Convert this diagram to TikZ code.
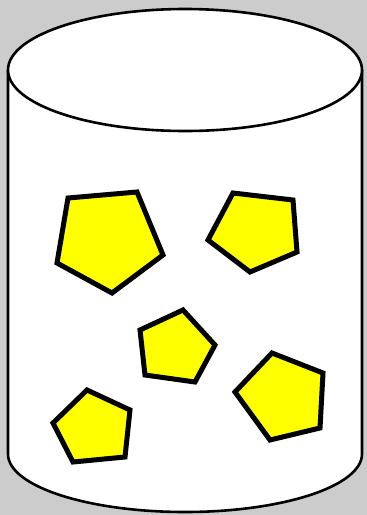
\documentclass[tikz,border=0pt]{standalone}
\usetikzlibrary{calc}
\definecolor{bggray}{HTML}{CCCCCC}
\definecolor{penty}{HTML}{FFFF00}
\tikzset{
  cyl/.style={draw=black, line width=2.6pt, fill=white},
  pent/.style={draw=black, line width=5pt, fill=penty, line join=miter},
}
\begin{document}
\begin{tikzpicture}[x=1pt,y=-1pt]
\fill[bggray] (0,0) rectangle (367,515);
\useasboundingbox (0,0) rectangle (367,515);
% cylinder body
\coordinate (tl) at (8,70);
\coordinate (tr) at (362,70);
\coordinate (bl) at (8,454);
\path[cyl] (tl) -- (bl) arc[start angle=180, end angle=0, x radius=177, y radius=58] -- (tr);
% top ellipse
\path[cyl] (185,70) ellipse[x radius=177, y radius=61];
% pentagons
\path[pent] (68,198) -- (137,192) -- (163,255) -- (112,293) -- (57,263) -- cycle;
\path[pent] (233,193) -- (293,200) -- (297,252) -- (250,272) -- (208,240) -- cycle;
\path[pent] (183,310) -- (215,345) -- (195,382) -- (145,375) -- (140,330) -- cycle;
\path[pent] (87,390) -- (130,410) -- (125,457) -- (73,462) -- (53,423) -- cycle;
\path[pent] (272,353) -- (323,373) -- (320,428) -- (270,440) -- (235,392) -- cycle;
\end{tikzpicture}
\end{document}
